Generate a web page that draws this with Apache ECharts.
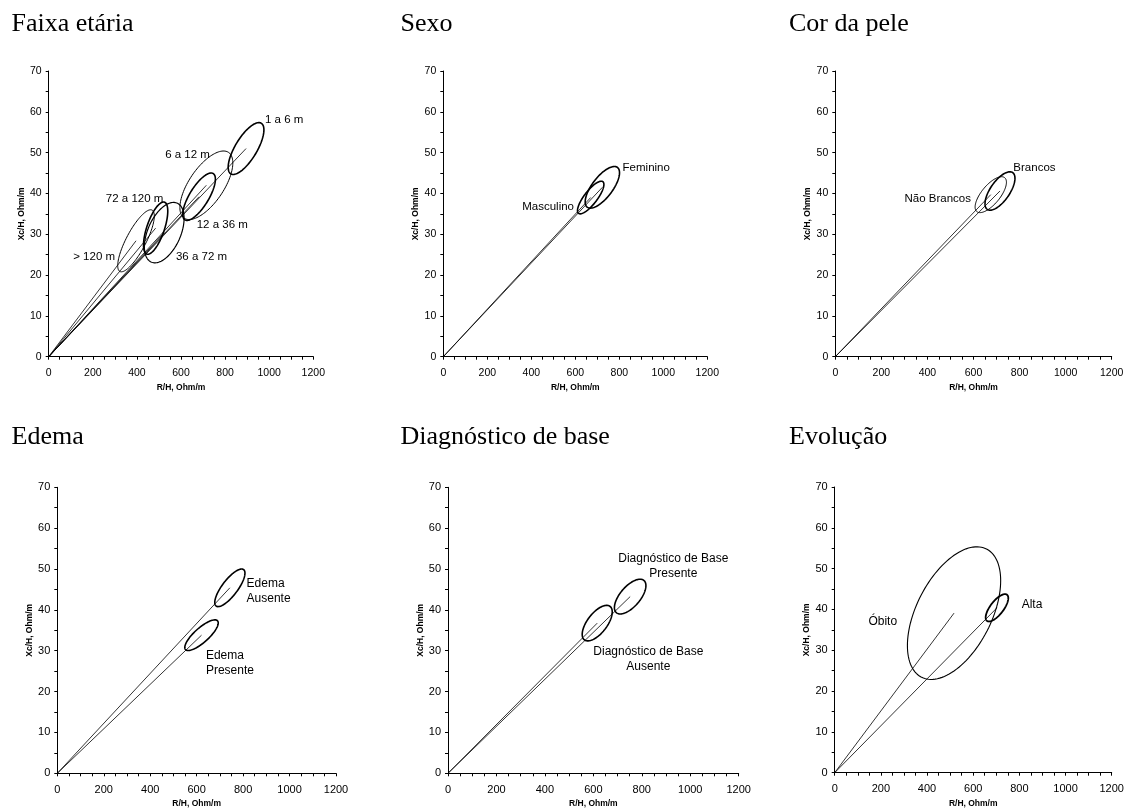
<!DOCTYPE html>
<html><head><meta charset="utf-8">
<script src="https://cdn.jsdelivr.net/npm/echarts@6/dist/echarts.min.js"></script>
<style>html,body{margin:0;padding:0;background:#fff}#c{width:1130px;height:812px}</style>
</head><body><div id="c"></div>
<script>
// ---- data ----
const panelTitles = ['Faixa etária','Sexo','Cor da pele','Edema','Diagnóstico de base','Evolução'];
const groupPanel = [0,0,0,0,0,0,1,1,2,2,3,3,4,4,5,5];
const groupLabel = ['1 a 6 m','6 a 12 m','12 a 36 m','36 a 72 m','72 a 120 m','> 120 m',
  'Feminino','Masculino','Brancos','Não Brancos','Edema\nAusente','Edema\nPresente',
  'Diagnóstico de Base\nPresente','Diagnóstico de Base\nAusente','Óbito','Alta'];
const meanR  = [895,715,682,524,485,396, 723,670, 715,675, 743,621, 752,616, 517,703];
const meanXc = [51,42,39.2,30.4,31.5,28.4, 41.5,39, 40.6,39.7, 45.4,33.8, 43.25,36.75, 39.1,40.4];
const halfR  = [81,120,74,90,55,83, 78,60, 65,68, 65,72, 65,62, 202,49];
const halfXc = [6.35,8.4,5.8,7.4,6.4,7.6, 5.1,4.0, 4.7,4.4, 4.6,3.75, 4.25,4.35, 16.25,3.35];
const corr   = [0.72,0.65,0.74,0.47,0.65,0.8, 0.7,0.8, 0.66,0.69, 0.78,0.8, 0.63,0.63, 0.49,0.71];
const labelR  = [981,731,671,577,520,301, 815,594, 773,589, 815,640, 930,827, 146,810];
const labelXc = [58,49.4,32.3,24.5,38.8,24.5, 46.3,36.8, 46.3,38.6, 44.5,26.9, 50.65,27.95, 37,41.1];
const xAxisMax = 1200, xLabelStep = 200, xMinorStep = 50;
const yAxisMax = 70, yLabelStep = 10, yMinorStep = 5;
const xAxisName = 'R/H, Ohm/m', yAxisName = 'Xc/H, Ohm/m';

// ---- layout / style ----
const gridRects = [
  [48.7,71,264.6,285.7],[443.3,71,264,285.7],[835.3,71,276.4,285.7],
  [57.3,487.3,278.7,286],[448,487.3,290.7,286],[834.7,487,277,285.7]];
const titlePos = [[11.5,11],[400.5,11],[789,11],[11.5,424],[400.5,424],[789,424]];
const labelAlign = ['left','right','left','left','right','right','left','right','left','right','left','left','center','center','left','left'];
const ellipseWidth = [1.6,1,1.6,1.2,1.6,1, 1.6,1.6, 1.6,1, 1.6,1.6, 1.6,1.6, 1.1,1.8];
const FONT = 'Liberation Sans';

const chart = echarts.init(document.getElementById('c'), null, {renderer:'canvas'});
const grids = [], xAxes = [], yAxes = [], series = [], titles = [];

panelTitles.forEach((t, p) => {
  const g = gridRects[p];
  grids.push({left:g[0], top:g[1], width:g[2], height:g[3], containLabel:false});
  titles.push({text:t, left:titlePos[p][0], top:titlePos[p][1], padding:0,
    textStyle:{fontFamily:'Liberation Serif', fontSize:26, fontWeight:'normal', color:'#000'}});
  const tickFs = p < 3 ? 10.5 : 11;
  xAxes.push({type:'value', gridIndex:p, min:0, max:xAxisMax, interval:xLabelStep,
    name:xAxisName, nameLocation:'middle', nameGap:26,
    nameTextStyle:{fontFamily:FONT, fontSize:8.5, fontWeight:'bold', color:'#000'},
    axisLine:{show:true, onZero:false, lineStyle:{color:'#000', width:1}},
    axisTick:{show:true, length:3, lineStyle:{color:'#000'}},
    minorTick:{show:true, splitNumber:xLabelStep/xMinorStep, length:3, lineStyle:{color:'#000'}},
    splitLine:{show:false},
    axisLabel:{fontFamily:FONT, fontSize:tickFs, color:'#000', margin:11, formatter:v => String(v)}});
  yAxes.push({type:'value', gridIndex:p, min:0, max:yAxisMax, interval:yLabelStep,
    name:yAxisName, nameLocation:'middle', nameGap:23, nameRotate:90,
    nameTextStyle:{fontFamily:FONT, fontSize:8.5, fontWeight:'bold', color:'#000'},
    axisLine:{show:true, onZero:false, lineStyle:{color:'#000', width:1}},
    axisTick:{show:true, length:3, lineStyle:{color:'#000'}},
    minorTick:{show:true, splitNumber:yLabelStep/yMinorStep, length:3, lineStyle:{color:'#000'}},
    splitLine:{show:false},
    axisLabel:{fontFamily:FONT, fontSize:tickFs, color:'#000', margin:7, formatter:v => String(v)}});

  const idx = [];
  groupPanel.forEach((gp, i) => { if (gp === p) idx.push(i); });

  // ellipses + mean vectors
  series.push({type:'custom', xAxisIndex:p, yAxisIndex:p, silent:true, animation:false,
    encode:{x:0, y:1},
    data: idx.map(i => [meanR[i], meanXc[i], halfR[i], halfXc[i], corr[i], i]),
    renderItem: function (params, api) {
      const cR = api.value(0), cX = api.value(1), wR = api.value(2), hX = api.value(3), r = api.value(4);
      const gi = api.value(5);
      const k = Math.sqrt(1 - r * r);
      const pts = [];
      const N = 120;
      for (let j = 0; j < N; j++) {
        const a = j / N * Math.PI * 2;
        pts.push(api.coord([cR + wR * Math.cos(a), cX + hX * (r * Math.cos(a) + k * Math.sin(a))]));
      }
      const o = api.coord([0, 0]);
      const c = api.coord([cR, cX]);
      return {type:'group', children:[
        {type:'line', shape:{x1:o[0], y1:o[1], x2:c[0], y2:c[1]}, style:{stroke:'#000', lineWidth:0.8}},
        {type:'polygon', shape:{points:pts}, style:{fill:null, stroke:'#000', lineWidth:ellipseWidth[gi]}}
      ]};
    }});

  // labels
  series.push({type:'custom', xAxisIndex:p, yAxisIndex:p, silent:true, animation:false,
    encode:{x:0, y:1},
    data: idx.map(i => [labelR[i], labelXc[i], i]),
    renderItem: function (params, api) {
      const gi = api.value(2);
      const pt = api.coord([api.value(0), api.value(1)]);
      return {type:'text', x:pt[0], y:pt[1], style:{text:groupLabel[gi], fill:'#000',
        font: (p < 3 ? '11.5px ' : '12px ') + FONT, align:labelAlign[gi], verticalAlign:'middle',
        lineHeight:15}};
    }});
});

chart.setOption({animation:false, backgroundColor:'#fff', title:titles, grid:grids,
  xAxis:xAxes, yAxis:yAxes, series:series});
</script></body></html>
